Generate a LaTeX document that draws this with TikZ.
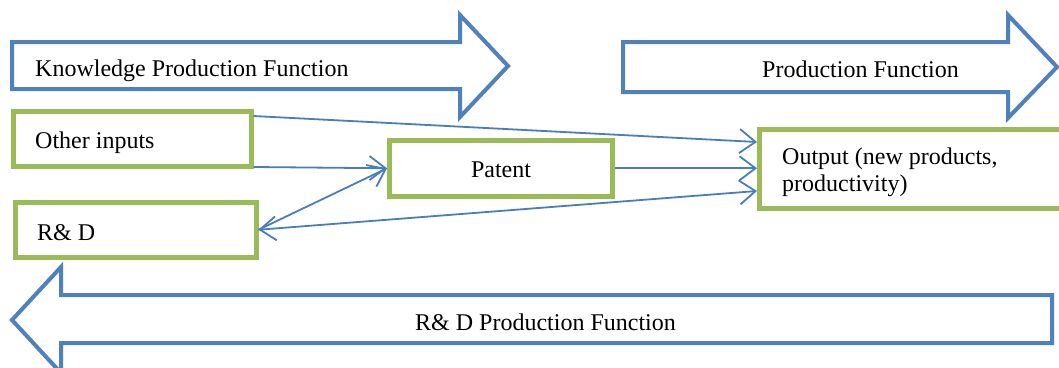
\documentclass[tikz,border=0pt]{standalone}
\usepackage{fontspec}
\setmainfont{Liberation Serif}
\usetikzlibrary{arrows.meta,calc}
\definecolor{ablue}{HTML}{4F81BD}
\definecolor{bgreen}{HTML}{9BBB59}
\definecolor{cblue}{HTML}{4A7EBB}
\begin{document}
\begin{tikzpicture}[x=1pt,y=-1pt,
  bigarrow/.style={draw=ablue,line width=4pt,line join=miter,fill=white},
  box/.style={draw=bgreen,line width=5pt,fill=white,inner sep=0pt},
  lbl/.style={font=\fontsize{24}{27}\selectfont,inner sep=0pt,anchor=base west},
  conn/.style={draw=cblue,line width=1.8pt},
  tipv/.style={-{Straight Barb[length=16pt,width=24pt]}},
  tipvv/.style={{Straight Barb[length=16pt,width=24pt]}-{Straight Barb[length=16pt,width=24pt]}}]
\clip (0,0) rectangle (1059,367);
\fill[white] (0,0) rectangle (1059,367);

% big blue block arrows
\draw[bigarrow] (12,42) -- (460,42) -- (460,15) -- (508,66) -- (460,117) -- (460,89) -- (12,89) -- cycle;
\draw[bigarrow] (623,42) -- (1008,42) -- (1008,15) -- (1057,67) -- (1008,118) -- (1008,92) -- (623,92) -- cycle;
\draw[bigarrow] (1052,295) -- (61,295) -- (61,267) -- (12,320) -- (61,373) -- (61,343) -- (1052,343) -- cycle;

\node[lbl] (tk) at (35,76) {Knowledge Production Function};
\node[lbl] (tp) at (762,77) {Production Function};
\node[lbl] (trdp) at (415,330) {R\& D Production Function};

% green boxes
\node[box,minimum width=237.5pt,minimum height=54.5pt] (oi) at (132.25,138.75) {};
\node[box,minimum width=240.5pt,minimum height=55.5pt] (rd) at (135.75,229.75) {};
\node[box,minimum width=222.5pt,minimum height=56.5pt] (pt) at (500.75,168.25) {};
\node[box,minimum width=320.5pt,minimum height=78.5pt] (out) at (919.75,168.75) {};

\node[lbl] (toi) at (35,148) {Other inputs};
\node[lbl] (trd) at (37,240) {R\& D};
\node[lbl,anchor=base] (tpt) at (501,177) {Patent};
\node[lbl,align=left] (tout) at (782,191) {Output (new products,\\productivity)};

% connectors
\draw[conn,tipv] ([yshift=-7pt]oi.north east) -- ([yshift=-15pt]out.north west);
\draw[conn,tipv] ([yshift=1.5pt]oi.south east) -- (pt.west);
\draw[conn,tipv] (rd.east) -- (pt.west);
\draw[conn,tipv] (pt.east) -- (pt.east -| out.west);
\draw[conn,tipvv] (rd.east) -- ([yshift=19.5pt]out.south west);
\end{tikzpicture}
\end{document}
